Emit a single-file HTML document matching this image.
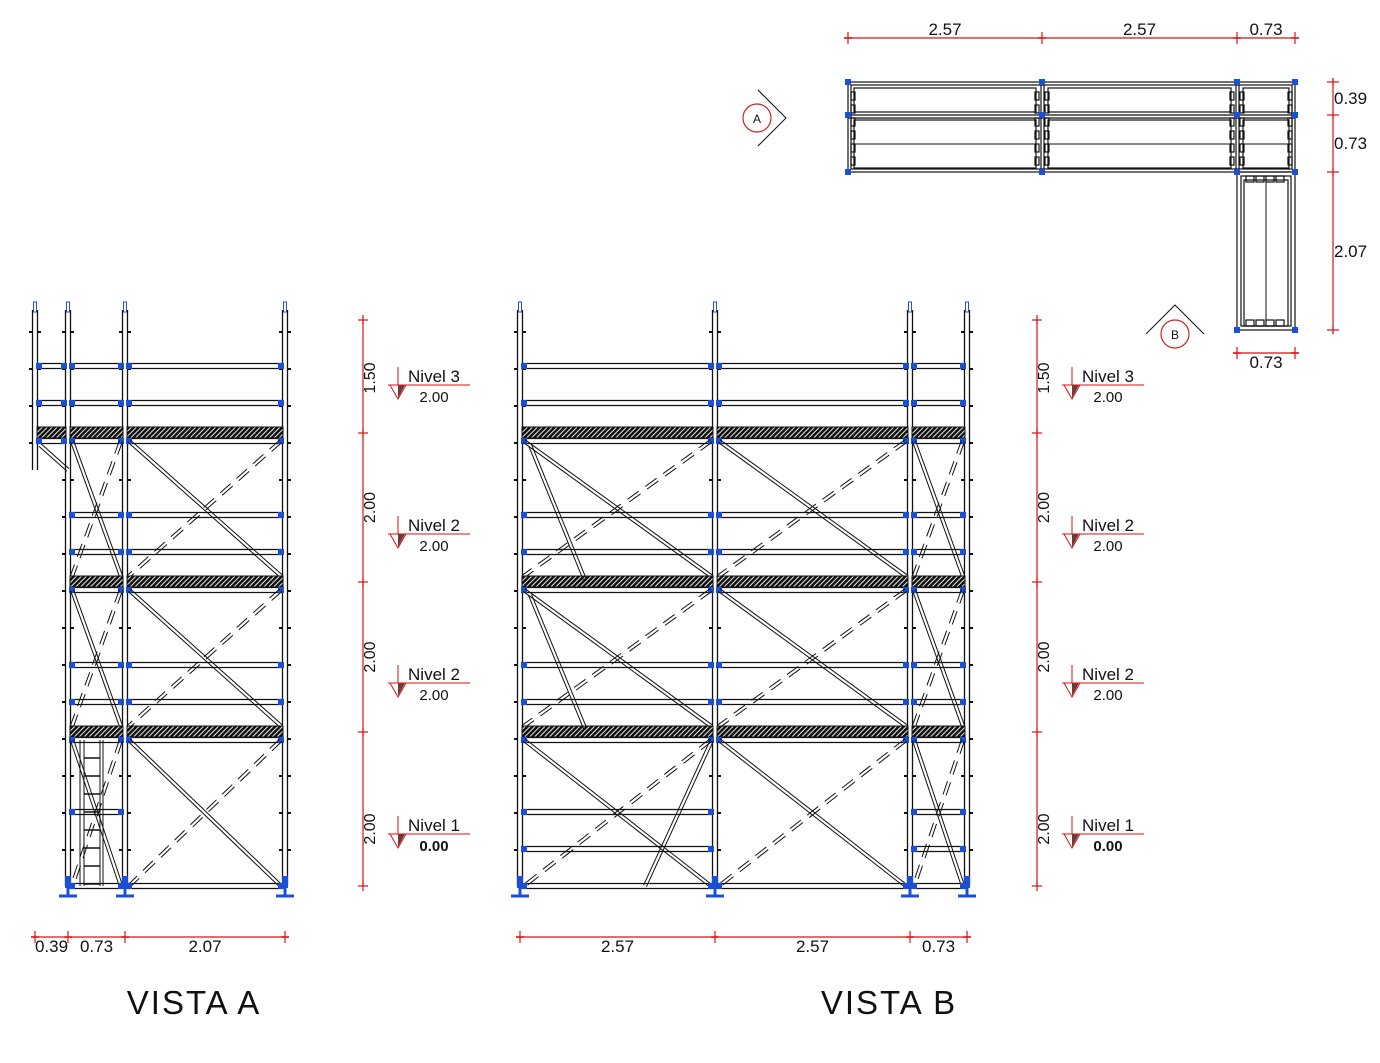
<!DOCTYPE html>
<html><head><meta charset="utf-8"><style>
html,body{margin:0;padding:0;background:#fff;}
svg{display:block;font-family:"Liberation Sans",sans-serif;}
</style></head><body>
<svg id="dwg" width="1380" height="1063" viewBox="0 0 1380 1063" xmlns="http://www.w3.org/2000/svg">
<defs>
<pattern id="hatch" patternUnits="userSpaceOnUse" width="3.5" height="4" patternTransform="rotate(45)">
<rect width="3.5" height="4" fill="#fff"/><rect width="2.6" height="4" fill="#111"/></pattern>
</defs>
</svg>
<script>
const NS='http://www.w3.org/2000/svg';
const svg=document.getElementById('dwg');
// ---- data ----
const postsA=[68,125,285];
const postsB=[520,715,910,967];
const deckLevels=[433,582,732];
const baseY=886, topY=310;
const railOffsets=[-67,-30];
const groundRailsB=[812,849];
const dimTicksV=[320,433,582,732,886];
const dimLabelsV=['1.50','2.00','2.00','2.00'];
const levelNames=['Nivel 3','Nivel 2','Nivel 2','Nivel 1'];
const levelValues=['2.00','2.00','2.00','0.00'];
const levelY=[385,534,683,834];
const dimA=[35,68,125,285];
const dimALabels=['0.39','0.73','2.07'];
const dimB=[520,715,910,967];
const dimBLabels=['2.57','2.57','0.73'];
const planX=[848,1042,1237,1295];
const planXLabels=['2.57','2.57','0.73'];
const planY=[82,115,172,330];
const planYLabels=['0.39','0.73','2.07'];

function el(tag,attrs,parent){const e=document.createElementNS(NS,tag);for(const k in attrs)e.setAttribute(k,attrs[k]);(parent||svg).appendChild(e);return e;}
function line(x1,y1,x2,y2,c,w,dash,p){return el('line',{x1,y1,x2,y2,stroke:c||'#111','stroke-width':w||1.2,'stroke-dasharray':dash||'none'},p);}
function dline(x1,y1,x2,y2,dash,p){const dx=x2-x1,dy=y2-y1,L=Math.hypot(dx,dy),nx=-dy/L*1.6,ny=dx/L*1.6;line(x1+nx,y1+ny,x2+nx,y2+ny,'#111',1,dash,p);line(x1-nx,y1-ny,x2-nx,y2-ny,'#111',1,dash,p);}
function txt(x,y,s,size,c,anchor,rot,p){const t=el('text',{x,y,'font-size':size,fill:c||'#111','text-anchor':anchor||'middle'},p);if(rot)t.setAttribute('transform','rotate('+rot+' '+x+' '+y+')');t.textContent=s;return t;}
function node(x,y,p){el('rect',{x:x-3,y:y-3,width:6,height:6,fill:'#1a4fd6'},p);}

function drawPost(x,y0,y1,p){line(x-2.5,y0,x-2.5,y1,'#111',1.3,null,p);line(x+2.5,y0,x+2.5,y1,'#111',1.3,null,p);
 el('rect',{x:x-1.5,y:y0-8,width:3,height:10,fill:'none',stroke:'#2a4fc0','stroke-width':1},p);
 for(let y=y0+22;y<y1-10;y+=37){line(x-6,y,x-3,y,'#111',2,null,p);line(x+3,y,x+6,y,'#111',2,null,p);}}
function foot(x,p){el('rect',{x:x-3,y:baseY-10,width:6,height:12,fill:'#1a4fd6'},p);line(x-9,baseY+10,x+9,baseY+10,'#1a4fd6',3,null,p);line(x,baseY,x,baseY+10,'#1a4fd6',3,null,p);}
function rail(xa,xb,y,p){line(xa+3,y-2.5,xb-3,y-2.5,'#111',1.2,null,p);line(xa+3,y+2.5,xb-3,y+2.5,'#111',1.2,null,p);node(xa+4,y,p);node(xb-4,y,p);}
function deck(xa,xb,y,p){el('rect',{x:xa+2,y:y-6,width:xb-xa-4,height:11,fill:'url(#hatch)',stroke:'#111','stroke-width':1},p);rail(xa,xb,y+8,p);}

function frame(posts,g,groundRails,skipRailBay){
 const ps=posts;
 ps.forEach(x=>{drawPost(x,topY,baseY,g);foot(x,g);});
 for(let i=0;i<ps.length-1;i++){
  const a=ps[i],b=ps[i+1];
  deckLevels.forEach((dy,k)=>{
   railOffsets.forEach(o=>rail(a,b,dy+o,g));
   deck(a,b,dy,g);
   const yTop=dy+8, yBot=k<deckLevels.length-1?deckLevels[k+1]-6:baseY;
   dline(a+4,yTop,b-4,yBot,null,g);
   dline(b-4,yTop,a+4,yBot,'14 8',g);
  });
  rail(a,b,baseY,g);
  if(groundRails && i!==skipRailBay) groundRails.forEach(y=>rail(a,b,y,g));
 }
}

// VISTA A
const gA=el('g',{});
frame(postsA,gA,null,-1);
drawPost(35,topY,470,gA);
railOffsets.forEach(o=>rail(35,68,deckLevels[0]+o,gA));
deck(35,68,deckLevels[0],gA);
dline(40,445,68,470,null,gA);
const gL=el('g',{},gA);
line(80,740,80,886,'#111',1,null,gL);line(84,740,84,886,'#111',1,null,gL);
line(100,740,100,886,'#111',1,null,gL);line(103,740,103,886,'#111',1,null,gL);
for(let y=758;y<886;y+=18)line(84,y,100,y,'#111',1.5,null,gL);
rail(68,125,812,gA);

// VISTA B
const gB=el('g',{});
frame(postsB,gB,groundRailsB,1);
dline(645,886,712,740,null,gB);dline(530,445,585,580,null,gB);dline(530,595,585,728,null,gB);

function vDim(x,name){const g=el('g',{});
 line(x,dimTicksV[0],x,dimTicksV[dimTicksV.length-1],'#d11',1.2,null,g);
 dimTicksV.forEach(y=>{line(x-5,y,x+5,y,'#d11',1.2,null,g);line(x,y-5,x,y+5,'#d11',1.2,null,g);});
 dimLabelsV.forEach((s,i)=>{const yy=(i==0?378:(dimTicksV[i]+dimTicksV[i+1])/2);txt(x+12,yy+(i==3?20:0),s,16,'#111','middle',-90,g);});
 levelNames.forEach((n,i)=>{const lx=x+35,ly=levelY[i];
  const m=el('g',{},g);
  line(lx,ly-18,lx,ly+12,'#d11',1,null,m);
  el('polygon',{points:(lx-8)+','+ly+' '+(lx+8)+','+ly+' '+lx+','+(ly+14),fill:'#fff',stroke:'#d11','stroke-width':1},m);
  el('polygon',{points:lx+','+ly+' '+(lx+7)+','+ly+' '+lx+','+(ly+13),fill:'#6b3a3a'},m);
  line(lx-10,ly,lx+72,ly,'#d11',1,null,m);
  txt(lx+36,ly-3,n,17,'#111','middle',null,m);
  const t=txt(lx+36,ly+17,levelValues[i],15,'#111','middle',null,m);if(i==3)t.setAttribute('font-weight','bold');
 });}
vDim(363,'vista-a-height-dims');vDim(1037,'vista-b-height-dims');

function hDim(xs,labels,y,name,below){const g=el('g',{});
 line(xs[0]-4,y,xs[xs.length-1]+4,y,'#d11',1.2,null,g);
 xs.forEach(x=>{line(x,y-6,x,y+6,'#d11',1.2,null,g);line(x-4,y,x+4,y,'#d11',1.5,null,g);});
 labels.forEach((s,i)=>txt((xs[i]+xs[i+1])/2,below?y+15:y-3,s,17,'#111','middle',null,g));}
hDim(dimA,dimALabels,937,'vista-a-width-dims',true);
hDim(dimB,dimBLabels,937,'vista-b-width-dims',true);
hDim(planX,planXLabels,38,'plan-width-dims',false);
hDim([1237,1295],['0.73'],353,'plan-wing-width-dim',true);
(function(){const g=el('g',{});const x=1333;
 line(x,planY[0]-4,x,planY[3]+4,'#d11',1.2,null,g);
 planY.forEach(y=>{line(x-6,y,x+6,y,'#d11',1.2,null,g);line(x,y-4,x,y+4,'#d11',1.2,null,g);});
 planYLabels.forEach((s,i)=>txt(x+1,(i==2?(planY[2]+planY[3])/2+6:(i==0?104:149)),s,17,'#111','start',null,g));})();

// PLAN
const gP=el('g',{});
function box(x,y,w,h,p){el('rect',{x,y,width:w,height:h,fill:'none',stroke:'#111','stroke-width':1.2},p);}
box(848,82,447,90,gP);box(851,85,441,84,gP);
for(let i=0;i<3;i++){const a=planX[i],b=planX[i+1];
 box(a+6,88,b-a-12,24,gP);box(a+6,120,b-a-12,48,gP);line(a+6,144,b-6,144,'#111',1,null,gP);
 for(let y=92;y<166;y+=13){box(a+3,y,4,8,gP);box(b-7,y,4,8,gP);} }
line(848,115,1295,115,'#111',1.2,null,gP);line(848,118,1295,118,'#111',1.2,null,gP);
planX.slice(1,3).forEach(x=>{line(x-1,82,x-1,172,'#111',1.2,null,gP);line(x+2,82,x+2,172,'#111',1.2,null,gP);});
box(1237,172,58,158,gP);box(1241,176,50,150,gP);box(1244,180,44,146,gP);line(1266,180,1266,326,'#111',1,null,gP);
for(let x=1246;x<1286;x+=10){box(x,176,8,6,gP);box(x,320,8,6,gP);}
planX.forEach(x=>[82,115,172].forEach(y=>node(x,y,gP)));
node(1237,330,gP);node(1295,330,gP);
(function(){const g=el('g',{});
 el('polyline',{points:'758,90 786,118 758,146',fill:'none',stroke:'#111','stroke-width':1},g);
 el('ellipse',{cx:757,cy:118,rx:14,ry:14,fill:'#fff',stroke:'#c22','stroke-width':1.2},g);txt(757,123,'A',12,'#111','middle',null,g);
 const g2=el('g',{});
 el('polyline',{points:'1146,334 1175,305 1204,334',fill:'none',stroke:'#111','stroke-width':1},g2);
 el('ellipse',{cx:1175,cy:334,rx:14,ry:14,fill:'#fff',stroke:'#c22','stroke-width':1.2},g2);txt(1175,339,'B',12,'#111','middle',null,g2);})();

const t1=txt(194,1014,'VISTA A',33,'#111','middle');


t1.setAttribute('letter-spacing','2');
const t2=txt(889,1014,'VISTA B',33,'#111','middle');


t2.setAttribute('letter-spacing','2');
</script>
</body></html>
